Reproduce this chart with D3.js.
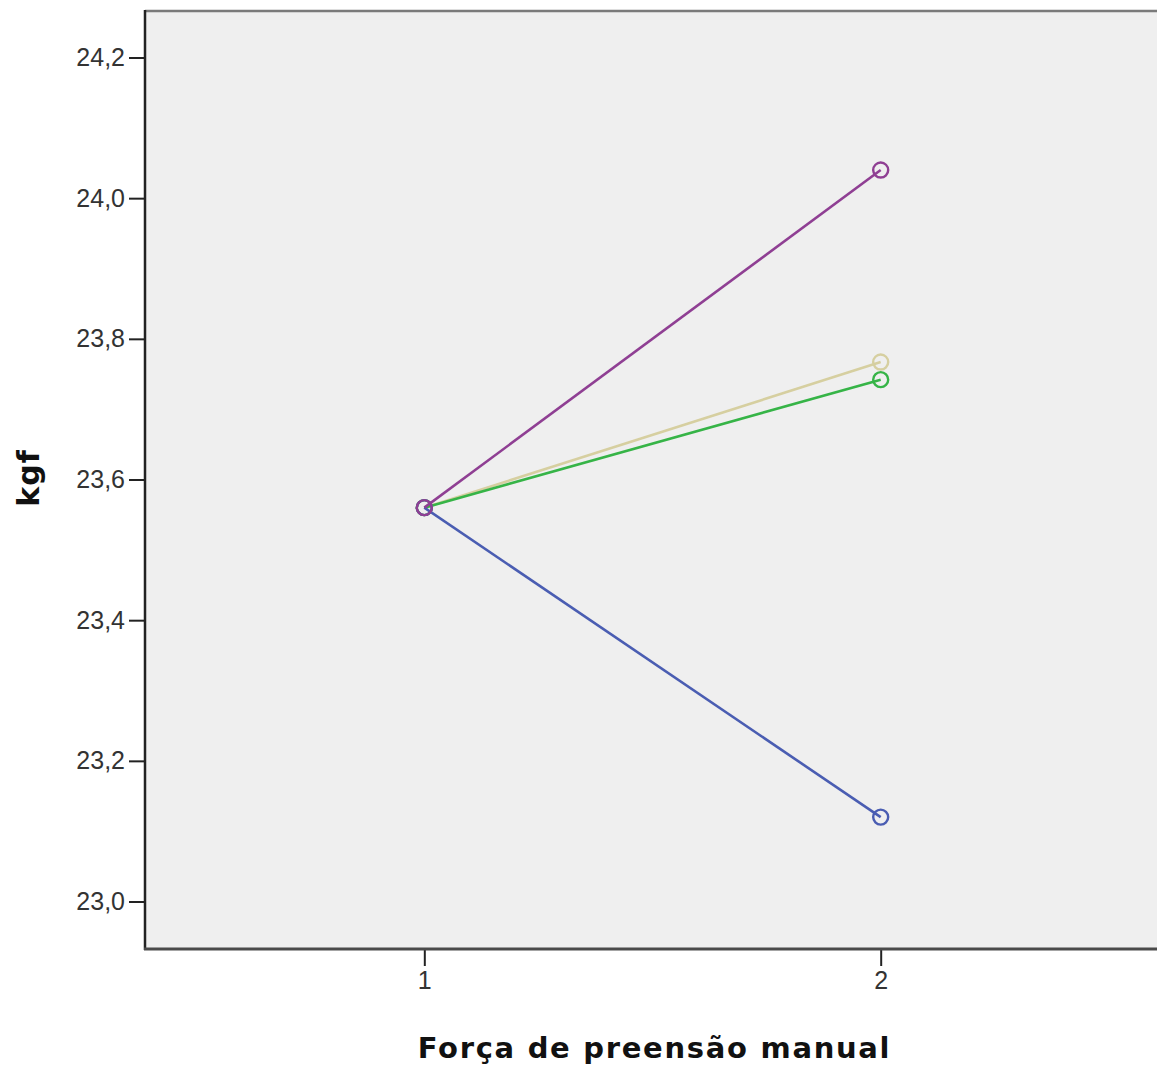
<!DOCTYPE html>
<html>
<head>
<meta charset="utf-8">
<script src="https://cdn.jsdelivr.net/npm/d3@7"></script>
<style>
  html, body { margin: 0; padding: 0; background: #fff; }
  svg { display: block; }
  text { font-family: "Liberation Sans", Arial, sans-serif; }
  .title { font-family: "DejaVu Sans", Verdana, sans-serif; font-weight: bold; }
</style>
</head>
<body>
<svg id="chart" width="1157" height="1067"></svg>
<script>
// ---- data ----
const xCategories = [1, 2];
const seriesNames = ["Grupo A", "Grupo B", "Grupo C", "Grupo D"];
const seriesBlue   = [23.56, 23.12];
const seriesBeige  = [23.56, 23.767];
const seriesGreen  = [23.56, 23.742];
const seriesPurple = [23.56, 24.04];
const yTickValues = [23.0, 23.2, 23.4, 23.6, 23.8, 24.0, 24.2];
const xTitle = "Força de preensão manual";
const yTitle = "kgf";

const seriesList = [
  { name: seriesNames[0], values: seriesBeige,  color: "#d6cfa0" },
  { name: seriesNames[1], values: seriesGreen,  color: "#36b447" },
  { name: seriesNames[2], values: seriesBlue,   color: "#4a5db2" },
  { name: seriesNames[3], values: seriesPurple, color: "#8f3f93" }
];

const svg = d3.select("#chart");
const plot = { left: 145, top: 11, right: 1160, bottom: 949 };

const x = d3.scaleLinear().domain([0.388, 2.612]).range([plot.left, plot.right]);
const y = d3.scaleLinear().domain([22.9325, 24.2661]).range([plot.bottom, plot.top]);

// background
svg.append("rect")
  .attr("x", plot.left).attr("y", plot.top)
  .attr("width", plot.right - plot.left).attr("height", plot.bottom - plot.top)
  .attr("fill", "#efefef");

// frame lines
svg.append("line").attr("x1", plot.left).attr("x2", plot.right)
  .attr("y1", plot.top).attr("y2", plot.top)
  .attr("stroke", "#7a7a7a").attr("stroke-width", 2.5);

// axes
const fmt = d => d3.format(".1f")(d).replace(".", ",");
const yAxis = d3.axisLeft(y).tickValues(yTickValues).tickFormat(fmt).tickSize(16).tickPadding(4);
const gy = svg.append("g").attr("transform", `translate(${plot.left},0)`).call(yAxis);
gy.select(".domain").remove();
gy.selectAll(".tick line").attr("stroke", "#222").attr("stroke-width", 2);
gy.selectAll(".tick text").attr("fill", "#333").style("font-size", "25px");
svg.append("line").attr("x1", plot.left).attr("x2", plot.left)
  .attr("y1", plot.top - 1).attr("y2", plot.bottom + 1)
  .attr("stroke", "#222").attr("stroke-width", 2.5);

const xAxis = d3.axisBottom(x).tickValues(xCategories).tickFormat(d3.format("d")).tickSize(17).tickPadding(5);
const gx = svg.append("g").attr("transform", `translate(0,${plot.bottom})`).call(xAxis);
gx.select(".domain").remove();
gx.selectAll(".tick line").attr("stroke", "#222").attr("stroke-width", 2);
gx.selectAll(".tick text").attr("fill", "#333").style("font-size", "25px");
svg.append("line").attr("x1", plot.left - 1).attr("x2", plot.right)
  .attr("y1", plot.bottom).attr("y2", plot.bottom)
  .attr("stroke", "#4a4a4a").attr("stroke-width", 3);

// series
const line = d3.line().x((d, i) => x(xCategories[i])).y(d => y(d));
seriesList.forEach(s => {
  const g = svg.append("g");
  g.append("path").datum(s.values).attr("d", line)
    .attr("fill", "none").attr("stroke", s.color).attr("stroke-width", 2.6);
  g.selectAll("circle").data(s.values).enter().append("circle")
    .attr("cx", (d, i) => x(xCategories[i])).attr("cy", d => y(d))
    .attr("r", 7.5).attr("fill", "none").attr("stroke", s.color).attr("stroke-width", 2.4);
});

// titles
svg.append("text").attr("class", "title").attr("x", (x(1) + x(2)) / 2 + 2).attr("y", 1058)
  .attr("text-anchor", "middle").style("font-size", "29px")
  .style("letter-spacing", "1.7px").attr("fill", "#111").text(xTitle);
svg.append("text").attr("class", "title").attr("transform", "translate(39,478) rotate(-90)")
  .attr("text-anchor", "middle").style("font-size", "30px")
  .style("letter-spacing", "1px").attr("fill", "#111").text(yTitle);
</script>
</body>
</html>
